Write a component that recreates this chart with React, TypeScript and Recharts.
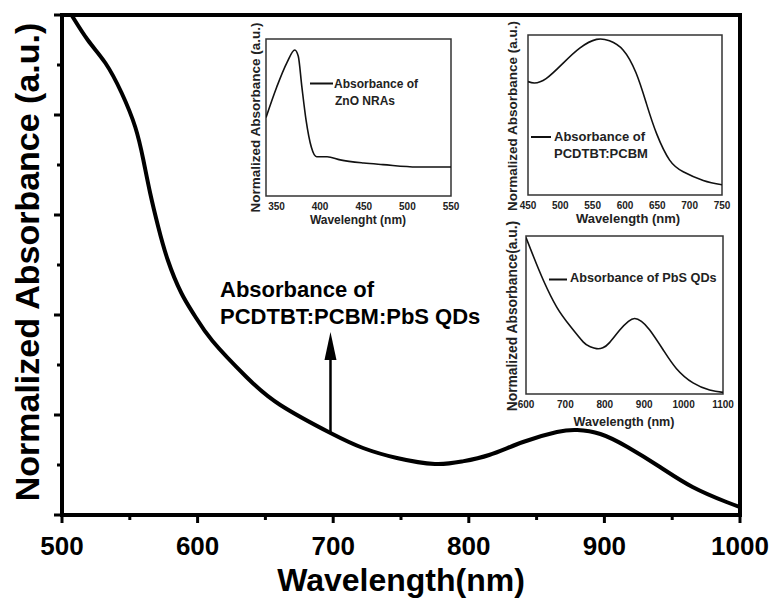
import { LineChart, Line, XAxis, YAxis, ReferenceArea, ReferenceLine } from 'recharts';

// main curve: PCDTBT:PCBM:PbS QDs blend
const mainWavelength = [500, 507, 519, 532, 544, 554, 560, 565, 571, 578, 588, 598, 611, 636, 661, 698, 722, 747, 775, 795, 815, 840, 865, 880, 897, 917, 941, 965, 990, 1000];
const mainAbsorbance = [5.15, 5.0, 4.75, 4.52, 4.22, 3.88, 3.55, 3.22, 2.88, 2.55, 2.22, 1.99, 1.74, 1.38, 1.1, 0.82, 0.67, 0.57, 0.51, 0.535, 0.6, 0.73, 0.83, 0.85, 0.81, 0.68, 0.48, 0.28, 0.13, 0.08];
const mainXTicks = [500, 550, 600, 650, 700, 750, 800, 850, 900, 950, 1000];
const mainYTicks = [0, 0.5, 1, 1.5, 2, 2.5, 3, 3.5, 4, 4.5, 5];

// inset: ZnO NRAs
const znoWavelength = [338, 350, 362, 371, 375, 379, 384, 390, 396, 408, 423, 450, 472, 511, 550];
const znoAbsorbance = [0.5, 0.69, 0.85, 0.93, 0.89, 0.7, 0.48, 0.31, 0.25, 0.25, 0.23, 0.21, 0.2, 0.185, 0.185];
const znoTicks = [350, 400, 450, 500, 550];

// inset: PCDTBT:PCBM
const pcbmWavelength = [450, 460, 478, 504, 530, 556, 576, 597, 617, 633, 649, 669, 690, 721, 750];
const pcbmAbsorbance = [0.78, 0.77, 0.8, 0.905, 1.01, 1.07, 1.06, 0.997, 0.84, 0.63, 0.42, 0.24, 0.16, 0.1, 0.07];
const pcbmTicks = [450, 500, 550, 600, 650, 700, 750];
const pcbmYTicks = [0.2, 0.6, 1.0];

// inset: PbS QDs
const pbsWavelength = [600, 619, 644, 678, 712, 745, 762, 779, 795, 812, 838, 860, 876, 893, 914, 948, 982, 1024, 1066, 1100];
const pbsAbsorbance = [0.99, 0.87, 0.72, 0.55, 0.43, 0.33, 0.3, 0.287, 0.292, 0.325, 0.405, 0.46, 0.478, 0.46, 0.405, 0.28, 0.16, 0.07, 0.025, 0.01];
const pbsTicks = [600, 700, 800, 900, 1000, 1100];

const FONT = 'Liberation Sans, Arial, sans-serif';

const toRows = (xs: number[], ys: number[]) => xs.map((wl, i) => ({ wl, abs: ys[i] }));

const MainXTick = (props: any) => {
  const { x, y, payload } = props;
  const major = payload.value % 100 === 0;
  return (
    <g>
      <line x1={x} y1={y} x2={x} y2={y + (major ? 8 : 5)} stroke="#000" strokeWidth={3} />
      {major && (
        <text x={x} y={y + 40} textAnchor="middle" fontSize={26} fontWeight="bold" fontFamily={FONT} fill="#000">
          {payload.value}
        </text>
      )}
    </g>
  );
};

const MainYTick = (props: any) => {
  const { x, y, payload } = props;
  const major = Number.isInteger(payload.value);
  return <line x1={x - (major ? 8 : 5)} y1={y} x2={x} y2={y} stroke="#000" strokeWidth={3} />;
};

const InsetXTick = (props: any) => {
  const { x, y, payload } = props;
  return (
    <text x={x} y={y + 14} textAnchor="middle" fontSize={10} fontWeight="bold" fontFamily={FONT} fill="#222">
      {payload.value}
    </text>
  );
};

const InsetYTick = (props: any) => {
  const { x, y } = props;
  return <line x1={x} y1={y} x2={x + 4} y2={y} stroke="#333" strokeWidth={1.2} />;
};

const Arrow = (props: any) => {
  const { x1, y1, x2, y2 } = props;
  const top = Math.min(y1, y2);
  const bottom = Math.max(y1, y2);
  return (
    <g>
      <line x1={x1} y1={bottom} x2={x2} y2={top + 20} stroke="#000" strokeWidth={2.5} />
      <polygon points={`${x1},${top} ${x1 - 6},${top + 28} ${x1 + 6},${top + 28}`} fill="#000" />
    </g>
  );
};

interface InsetProps {
  left: number;
  top: number;
  width: number;
  height: number;
  data: { wl: number; abs: number }[];
  xDomain: [number, number];
  yDomain: [number, number];
  xTicks: number[];
  yTicks?: number[];
  curve: 'monotone' | 'natural';
}

function Inset({ left, top, width, height, data, xDomain, yDomain, xTicks, yTicks, curve }: InsetProps) {
  return (
    <div style={{ position: 'absolute', left: left - 14, top: top - 2 }}>
      <LineChart width={width + 28} height={height + 22} data={data} margin={{ top: 2, right: 14, left: 14, bottom: 0 }}>
        <XAxis
          dataKey="wl"
          type="number"
          domain={xDomain}
          ticks={xTicks}
          interval={0}
          height={20}
          tickSize={0}
          tickMargin={0}
          axisLine={false}
          tickLine={false}
          tick={<InsetXTick />}
          allowDataOverflow
        />
        <YAxis
          type="number"
          domain={yDomain}
          ticks={yTicks}
          interval={0}
          width={0}
          tickSize={0}
          tickMargin={0}
          axisLine={false}
          tickLine={false}
          tick={yTicks ? <InsetYTick /> : false}
          allowDataOverflow
        />
        <Line dataKey="abs" type={curve} dot={false} stroke="#111" strokeWidth={1.6} isAnimationActive={false} />
        <ReferenceArea x1={xDomain[0]} x2={xDomain[1]} y1={yDomain[0]} y2={yDomain[1]} fill="none" stroke="#333" strokeWidth={1.5} />
      </LineChart>
    </div>
  );
}

export default function App() {
  const mainData = toRows(mainWavelength, mainAbsorbance);
  const bold = { fontFamily: FONT, fontWeight: 'bold' as const, fill: '#000' };
  const inset = { fontFamily: FONT, fontWeight: 'bold' as const, fill: '#222' };

  return (
    <div style={{ position: 'absolute', left: 0, top: 0, width: 777, height: 598, background: '#fff' }}>
      <div style={{ position: 'absolute', left: 0, top: 0 }}>
        <LineChart width={777} height={598} data={mainData} margin={{ top: 15, right: 37, bottom: 0, left: 0 }}>
          <XAxis
            dataKey="wl"
            type="number"
            domain={[500, 1000]}
            ticks={mainXTicks}
            interval={0}
            height={83}
            tickSize={0}
            tickMargin={0}
            axisLine={false}
            tickLine={false}
            tick={<MainXTick />}
            allowDataOverflow
          />
          <YAxis
            type="number"
            domain={[0, 5]}
            ticks={mainYTicks}
            interval={0}
            width={62}
            tickSize={0}
            tickMargin={0}
            axisLine={false}
            tickLine={false}
            tick={<MainYTick />}
            allowDataOverflow
          />
          <Line dataKey="abs" type="natural" dot={false} stroke="#000" strokeWidth={4} isAnimationActive={false} />
          <ReferenceArea x1={500} x2={1000} y1={0} y2={5} fill="none" stroke="#000" strokeWidth={4} />
          <ReferenceLine segment={[{ x: 698, y: 0.82 }, { x: 698, y: 1.83 }]} shape={Arrow} ifOverflow="visible" />
        </LineChart>
      </div>

      <Inset left={266} top={39} width={185} height={157} data={toRows(znoWavelength, znoAbsorbance)} xDomain={[338, 550]} yDomain={[0, 1]} xTicks={znoTicks} curve="monotone" />
      <Inset left={528} top={35} width={194} height={160} data={toRows(pcbmWavelength, pcbmAbsorbance)} xDomain={[450, 750]} yDomain={[0, 1.1]} xTicks={pcbmTicks} yTicks={pcbmYTicks} curve="natural" />
      <Inset left={526} top={236} width={197} height={158} data={toRows(pbsWavelength, pbsAbsorbance)} xDomain={[600, 1100]} yDomain={[0, 1]} xTicks={pbsTicks} curve="natural" />

      <svg width={777} height={598} style={{ position: 'absolute', left: 0, top: 0, pointerEvents: 'none' }}>
        <text x={39} y={262} transform="rotate(-90 39 262)" textAnchor="middle" fontSize={34} {...bold}>
          Normalized Absorbance (a.u.)
        </text>
        <text x={401} y={591} textAnchor="middle" fontSize={32} {...bold}>
          Wavelength(nm)
        </text>
        <text x={220} y={297} fontSize={22} {...bold}>Absorbance of</text>
        <text x={220} y={324} fontSize={22} {...bold}>PCDTBT:PCBM:PbS QDs</text>

        <text x={260} y={117.5} transform="rotate(-90 260 117.5)" textAnchor="middle" fontSize={13.5} {...inset}>
          Normalized Absorbance (a.u.)
        </text>
        <text x={358} y={224} textAnchor="middle" fontSize={12} {...inset}>Wavelenght (nm)</text>
        <line x1={310} y1={83.5} x2={333} y2={83.5} stroke="#111" strokeWidth={2} />
        <text x={334} y={88} fontSize={12} {...inset}>Absorbance of</text>
        <text x={335} y={105} fontSize={12} {...inset}>ZnO NRAs</text>

        <text x={516.5} y={116} transform="rotate(-90 516.5 116)" textAnchor="middle" fontSize={13.5} {...inset}>
          Normalized Absorbance (a.u.)
        </text>
        <text x={628} y={223} textAnchor="middle" fontSize={13} {...inset}>Wavelength (nm)</text>
        <line x1={531} y1={137} x2={551} y2={137} stroke="#111" strokeWidth={2} />
        <text x={554} y={141} fontSize={13} {...inset}>Absorbance of</text>
        <text x={554} y={157.5} fontSize={13} {...inset}>PCDTBT:PCBM</text>

        <text x={516.5} y={316} transform="rotate(-90 516.5 316)" textAnchor="middle" fontSize={13.8} {...inset}>
          Normalized Absorbance(a.u.)
        </text>
        <text x={624} y={426} textAnchor="middle" fontSize={12.6} {...inset}>Wavelength (nm)</text>
        <line x1={549} y1={279.5} x2={567} y2={279.5} stroke="#111" strokeWidth={2} />
        <text x={570} y={282} fontSize={12.7} {...inset}>Absorbance of PbS QDs</text>
      </svg>
    </div>
  );
}
